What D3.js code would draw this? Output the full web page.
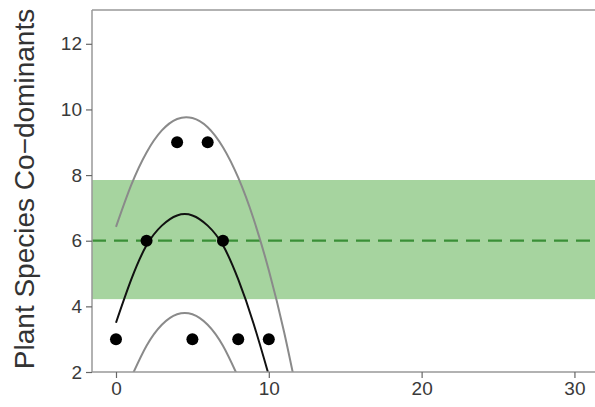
<!DOCTYPE html>
<html lang="en">
<head>
<meta charset="utf-8">
<title>Plant species co-dominants</title>
<script src="https://cdn.jsdelivr.net/npm/d3@7"></script>
<style>
  body { margin: 0; background: #fff; }
  svg { display: block; font-family: "Liberation Sans", Arial, sans-serif; }
</style>
</head>
<body>
<script>
// data
var xTicks = [0, 10, 20, 30];
var yTicks = [2, 4, 6, 8, 10, 12];

// observed points
var obsX = [0, 2, 4, 5, 6, 7, 8, 10];
var obsY = [3, 6, 9, 3, 9, 6, 3, 3];

// fitted curve (black)
var fitX = [0, 1, 2, 3, 4, 5, 6, 7, 8, 9, 10, 10.3];
var fitY = [3.5, 4.82, 5.86, 6.46, 6.77, 6.77, 6.46, 5.86, 4.82, 3.48, 1.9, 1.4];

// upper bound (grey)
var upX = [0, 1, 2, 3, 4, 5, 6, 7, 8, 9, 10, 11, 12];
var upY = [6.42, 7.7, 8.69, 9.36, 9.71, 9.74, 9.46, 8.85, 7.92, 6.67, 5.1, 3.22, 1.01];

// lower bound (grey)
var loX = [1, 2, 3, 4, 5, 6, 7, 8];
var loY = [1.84, 2.8, 3.44, 3.76, 3.76, 3.44, 2.8, 1.84];

// reference band and line
var bandLow = 4.22;
var bandHigh = 7.85;
var refLine = 6;

var width = 595;
var height = 407;
var plotLeft = 92, plotRight = 605, plotTop = 10, plotBottom = 372;

var svg = d3.select("body")
  .append("svg")
  .attr("width", width)
  .attr("height", height);

var xScale = d3.scaleLinear()
  .domain([-1.57, 32.0])
  .range([plotLeft, plotRight]);
var yScale = d3.scaleLinear()
  .domain([2, 13.03])
  .range([plotBottom, plotTop]);

svg.append("clipPath")
  .attr("id", "plot")
  .append("rect")
  .attr("x", plotLeft)
  .attr("y", plotTop)
  .attr("width", plotRight - plotLeft)
  .attr("height", plotBottom - plotTop);

var plot = svg.append("g").attr("clip-path", "url(#plot)");

// green band
plot.append("rect")
  .attr("x", plotLeft)
  .attr("width", plotRight - plotLeft)
  .attr("y", yScale(bandHigh))
  .attr("height", yScale(bandLow) - yScale(bandHigh))
  .attr("fill", "#a6d49f");

// dashed reference line
plot.append("line")
  .attr("x1", plotLeft)
  .attr("x2", plotRight)
  .attr("y1", yScale(refLine))
  .attr("y2", yScale(refLine))
  .attr("stroke", "#3a8f37")
  .attr("stroke-width", 2.2)
  .attr("stroke-dasharray", "14,8");

var line = d3.line()
  .x(function(d) { return xScale(d[0]); })
  .y(function(d) { return yScale(d[1]); })
  .curve(d3.curveNatural);

function pairs(xs, ys) {
  return xs.map(function(x, i) { return [x, ys[i]]; });
}

plot.append("path")
  .datum(pairs(upX, upY))
  .attr("d", line)
  .attr("fill", "none")
  .attr("stroke", "#8a8a8a")
  .attr("stroke-width", 2);

plot.append("path")
  .datum(pairs(loX, loY))
  .attr("d", line)
  .attr("fill", "none")
  .attr("stroke", "#8a8a8a")
  .attr("stroke-width", 2);

plot.append("path")
  .datum(pairs(fitX, fitY))
  .attr("d", line)
  .attr("fill", "none")
  .attr("stroke", "#111")
  .attr("stroke-width", 2);

// points
svg.selectAll("circle.obs")
  .data(pairs(obsX, obsY))
  .enter()
  .append("circle")
  .attr("class", "obs")
  .attr("cx", function(d) { return xScale(d[0]); })
  .attr("cy", function(d) { return yScale(d[1]); })
  .attr("r", 6)
  .attr("fill", "#000");

// frame top
svg.append("line")
  .attr("x1", plotLeft).attr("x2", plotRight)
  .attr("y1", plotTop).attr("y2", plotTop)
  .attr("stroke", "#999").attr("stroke-width", 1.5);

// axes
var yAxis = d3.axisLeft(yScale)
  .tickValues(yTicks)
  .tickSize(6)
  .tickPadding(4);
var xAxis = d3.axisBottom(xScale)
  .tickValues(xTicks)
  .tickSize(6)
  .tickPadding(4);

var gy = svg.append("g")
  .attr("transform", "translate(" + plotLeft + ",0)")
  .call(yAxis);
var gx = svg.append("g")
  .attr("transform", "translate(0," + plotBottom + ")")
  .call(xAxis);

[gx, gy].forEach(function(g) {
  g.select(".domain").attr("stroke", "#999").attr("stroke-width", 1.5);
  g.selectAll(".tick line").attr("stroke", "#666").attr("stroke-width", 1.2);
  g.selectAll(".tick text")
    .attr("fill", "#3a3a3a")
    .style("font-size", "19px")
    .style("font-family", "'Liberation Sans', Arial, sans-serif");
});
gy.select(".domain").attr("d", "M0," + plotBottom + "V" + plotTop);
gx.select(".domain").attr("d", "M" + plotLeft + ",0H" + plotRight);

// y label
svg.append("text")
  .attr("transform", "rotate(-90)")
  .attr("x", -189)
  .attr("y", 34)
  .style("text-anchor", "middle")
  .style("font-size", "28px")
  .attr("fill", "#333")
  .text("Plant Species Co\u2212dominants");
</script>
</body>
</html>
